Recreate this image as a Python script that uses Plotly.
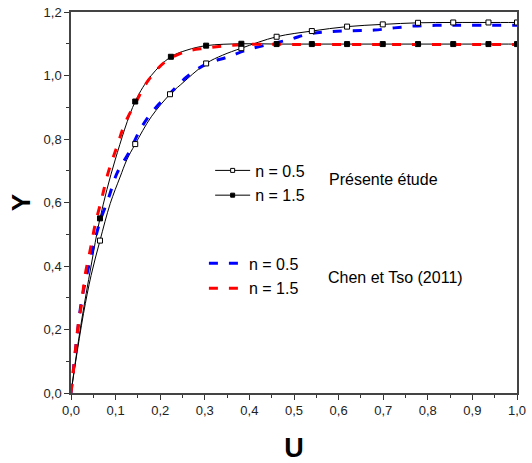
import plotly.graph_objects as go

# ---- Data ----
# Présente étude, n = 0.5 : curve points
u_p05_line = [0.0, 0.010, 0.028, 0.045, 0.065, 0.088, 0.110, 0.125, 0.144, 0.180, 0.222, 0.245, 0.303,
              0.340, 0.382, 0.461, 0.540, 0.619, 0.699, 0.778, 0.857, 0.936, 1.0]
y_p05_line = [0.0, 0.095, 0.25, 0.37, 0.48, 0.597, 0.68, 0.734, 0.784, 0.870, 0.941, 0.970, 1.038,
              1.064, 1.086, 1.122, 1.140, 1.154, 1.161, 1.166, 1.167, 1.167, 1.167]
# Présente étude, n = 0.5 : marker points
u_p05_mk = [0.065, 0.144, 0.222, 0.303, 0.382, 0.461, 0.540, 0.619, 0.699, 0.778, 0.857, 0.936, 1.0]
y_p05_mk = [0.48, 0.784, 0.941, 1.038, 1.086, 1.122, 1.140, 1.154, 1.161, 1.166, 1.167, 1.167, 1.167]

# Présente étude, n = 1.5 : curve points
u_p15_line = [0.0, 0.010, 0.024, 0.045, 0.065, 0.099, 0.144, 0.180, 0.224, 0.260, 0.303, 0.382,
              0.461, 0.540, 0.619, 0.699, 0.778, 0.857, 0.936, 1.0]
y_p15_line = [0.0, 0.10, 0.23, 0.40, 0.55, 0.734, 0.918, 1.000, 1.059, 1.080, 1.094, 1.100,
              1.099, 1.099, 1.099, 1.099, 1.099, 1.099, 1.099, 1.099]
# Présente étude, n = 1.5 : marker points
u_p15_mk = [0.065, 0.144, 0.224, 0.303, 0.382, 0.461, 0.540, 0.619, 0.699, 0.778, 0.857, 0.936, 1.0]
y_p15_mk = [0.55, 0.918, 1.059, 1.094, 1.100, 1.099, 1.099, 1.099, 1.099, 1.099, 1.099, 1.099, 1.099]

# Chen et Tso (2011), n = 0.5
u_c05 = [0.0, 0.012, 0.024, 0.037, 0.050, 0.065, 0.084, 0.103, 0.129, 0.159, 0.189, 0.226, 0.260,
         0.303, 0.353, 0.398, 0.450, 0.492, 0.533, 0.582, 0.631, 0.680, 0.725, 0.770, 0.818, 0.867, 1.0]
y_c05 = [0.0, 0.16, 0.293, 0.382, 0.461, 0.54, 0.613, 0.692, 0.755, 0.839, 0.897, 0.949, 0.996,
         1.036, 1.059, 1.082, 1.100, 1.114, 1.131, 1.138, 1.141, 1.143, 1.150, 1.156, 1.158, 1.158, 1.158]

# Chen et Tso (2011), n = 1.5
u_c15 = [0.0, 0.004, 0.011, 0.018, 0.024, 0.031, 0.043, 0.054, 0.069, 0.084, 0.103, 0.121, 0.148,
         0.174, 0.211, 0.256, 0.301, 0.346, 0.398, 0.500, 0.700, 1.0]
y_c15 = [0.0, 0.05, 0.15, 0.235, 0.283, 0.366, 0.45, 0.529, 0.613, 0.697, 0.776, 0.849, 0.923,
         0.986, 1.043, 1.075, 1.086, 1.093, 1.098, 1.098, 1.098, 1.098]

x_ticks = [0.0, 0.1, 0.2, 0.3, 0.4, 0.5, 0.6, 0.7, 0.8, 0.9, 1.0]
y_ticks = [0.0, 0.2, 0.4, 0.6, 0.8, 1.0, 1.2]

REG = "Liberation Sans, Arial, sans-serif"

fig = go.Figure()

# black solid curves (no legend)
fig.add_trace(go.Scatter(x=u_p05_line, y=y_p05_line, mode="lines", line=dict(color="black", width=1, shape="spline"),
                         showlegend=False, hoverinfo="skip"))
fig.add_trace(go.Scatter(x=u_p15_line, y=y_p15_line, mode="lines", line=dict(color="black", width=1, shape="spline"),
                         showlegend=False, hoverinfo="skip"))

# dashed curves
fig.add_trace(go.Scatter(x=u_c05, y=y_c05, mode="lines", name="n = 0.5",
                         line=dict(color="#0000ff", width=3, dash="9px,11px", shape="spline"),
                         legend="legend3"))
fig.add_trace(go.Scatter(x=u_c15, y=y_c15, mode="lines", name="n = 1.5",
                         line=dict(color="#ff0000", width=3, dash="9px,11px", shape="spline"),
                         legend="legend4"))

# markers
fig.add_trace(go.Scatter(x=u_p05_mk, y=y_p05_mk, mode="markers", showlegend=False,
                         marker=dict(symbol="square", size=5, color="white", line=dict(color="black", width=1))))
fig.add_trace(go.Scatter(x=u_p15_mk, y=y_p15_mk, mode="markers", showlegend=False,
                         marker=dict(symbol="square", size=5, color="black", line=dict(color="black", width=1))))

# legend-only entries for solid curves with markers
fig.add_trace(go.Scatter(x=[None], y=[None], mode="lines+markers", name="n = 0.5",
                         line=dict(color="black", width=1),
                         marker=dict(symbol="square", size=4, color="white", line=dict(color="black", width=1)),
                         legend="legend"))
fig.add_trace(go.Scatter(x=[None], y=[None], mode="lines+markers", name="n = 1.5",
                         line=dict(color="black", width=1),
                         marker=dict(symbol="square", size=4, color="black", line=dict(color="black", width=1)),
                         legend="legend2"))

leg_common = dict(xanchor="left", yanchor="middle", bgcolor="rgba(0,0,0,0)", borderwidth=0,
                  itemwidth=35, font=dict(family=REG, size=16, color="black"))

fig.update_layout(
    width=532, height=463,
    margin=dict(l=71, r=15, t=12, b=70, autoexpand=False),
    paper_bgcolor="white", plot_bgcolor="white",
    separators=",.",
    showlegend=True,
    legend=dict(x=0.312, y=0.584, **leg_common),
    legend2=dict(x=0.312, y=0.519, **leg_common),
    legend3=dict(x=0.298, y=0.340, **leg_common),
    legend4=dict(x=0.298, y=0.275, **leg_common),
    xaxis=dict(range=[0, 1.0], tickvals=x_ticks, tickformat=".1f", ticks="outside", ticklen=5, tickwidth=1,
               tickcolor="#333", showline=True, linecolor="#444", linewidth=1.5, mirror=True,
               showgrid=False, zeroline=False, automargin=False,
               minor=dict(dtick=0.05, ticks="outside", ticklen=3, tickcolor="#333", tickwidth=1),
               tickfont=dict(family=REG, size=13, color="#222"),
               title=dict(text="<b>U</b>", font=dict(family=REG, size=27, color="black"), standoff=24)),
    yaxis=dict(range=[0, 1.2], tickvals=y_ticks, tickformat=".1f", ticks="outside", ticklen=5, tickwidth=1,
               tickcolor="#333", showline=True, linecolor="#444", linewidth=1.5, mirror=True,
               showgrid=False, zeroline=False, automargin=False,
               minor=dict(dtick=0.1, ticks="outside", ticklen=3, tickcolor="#333", tickwidth=1),
               tickfont=dict(family=REG, size=13, color="#222"),
               title=dict(text="<b>Y</b>", font=dict(family=REG, size=26, color="black"), standoff=5)),
    annotations=[
        dict(x=0.573, y=0.674, xref="x", yref="y", text="Présente étude", showarrow=False,
             xanchor="left", yanchor="middle", font=dict(family=REG, size=16, color="black")),
        dict(x=0.571, y=0.365, xref="x", yref="y", text="Chen et Tso (2011)", showarrow=False,
             xanchor="left", yanchor="middle", font=dict(family=REG, size=16, color="black")),
    ],
)

fig.write_html("out.html")
